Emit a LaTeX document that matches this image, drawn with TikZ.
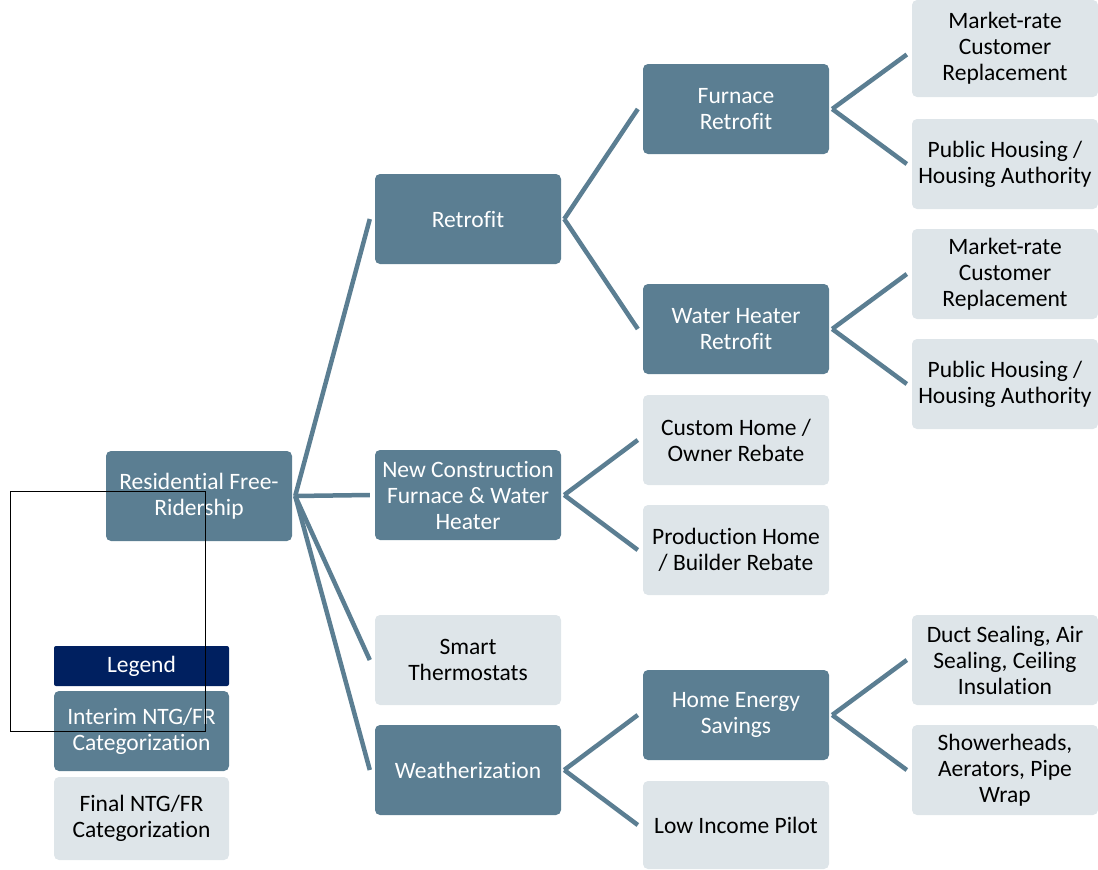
\documentclass[tikz,border=0pt]{standalone}
\usepackage{fontspec}
\setmainfont{Carlito}[Ligatures=CommonOff]
\begin{document}
\begin{tikzpicture}[x=1pt,y=-1pt,
  box/.style={rounded corners=5pt, minimum width=186pt, minimum height=90pt, align=center, inner sep=0pt, font=\fontsize{23.5}{26}\selectfont},
  dark/.style={box, fill=steel, text=white},
  light/.style={box, fill=pale, text=black},
  conn/.style={draw=steel, line width=4.5pt, line cap=butt}]
\definecolor{steel}{HTML}{5B7E92}
\definecolor{pale}{HTML}{DEE5E9}
\definecolor{navy}{HTML}{002060}
\useasboundingbox (0,0) rectangle (1098,870);
% level 0
\node[dark] (res) at (199,496) {Residential Free-\\Ridership};
% level 1
\node[dark] (ret) at (468,219) {Retrofit};
\node[dark] (newc) at (468,495) {New Construction\\Furnace \& Water\\Heater};
\node[light] (smart) at (468,660) {Smart\\Thermostats};
\node[dark] (weath) at (468,770) {Weatherization};
% level 2
\node[dark] (furn) at (736,109) {Furnace\\Retrofit};
\node[dark] (wh) at (736,329) {Water Heater\\Retrofit};
\node[light] (cust) at (736,440) {Custom Home /\\Owner Rebate};
\node[light] (prod) at (736,550) {Production Home\\/ Builder Rebate};
\node[dark] (hes) at (736,715) {Home Energy\\Savings};
\node[light, minimum height=88pt] (lip) at (736,825) {Low Income Pilot};
% level 3
\node[light, minimum height=97pt] (mr1) at (1005,48.5) {Market-rate\\Customer\\Replacement};
\node[light] (ph1) at (1005,164) {Public Housing /\\Housing Authority};
\node[light] (mr2) at (1005,274) {Market-rate\\Customer\\Replacement};
\node[light] (ph2) at (1005,384) {Public Housing /\\Housing Authority};
\node[light] (duct) at (1005,660) {Duct Sealing, Air\\Sealing, Ceiling\\Insulation};
\node[light] (show) at (1005,770) {Showerheads,\\Aerators, Pipe\\Wrap};
% connectors
\foreach \c in {ret,newc,smart,weath}
  \draw[conn] ([xshift=3pt]res.east) -- ([xshift=-5pt]\c.west);
\foreach \c in {furn,wh}
  \draw[conn] ([xshift=3pt]ret.east) -- ([xshift=-5pt]\c.west);
\foreach \c in {cust,prod}
  \draw[conn] ([xshift=3pt]newc.east) -- ([xshift=-5pt]\c.west);
\foreach \c in {hes,lip}
  \draw[conn] ([xshift=3pt]weath.east) -- ([xshift=-5pt]\c.west);
\draw[conn] ([xshift=3pt]furn.east) -- ([xshift=-5pt,yshift=-6pt]mr1.west);
\draw[conn] ([xshift=3pt]furn.east) -- ([xshift=-5pt]ph1.west);
\foreach \c in {mr2,ph2}
  \draw[conn] ([xshift=3pt]wh.east) -- ([xshift=-5pt]\c.west);
\foreach \c in {duct,show}
  \draw[conn] ([xshift=3pt]hes.east) -- ([xshift=-5pt]\c.west);
% legend
\node[box, fill=navy, text=white, minimum width=175pt, minimum height=40pt, rounded corners=2pt] (leg) at (141.5,666) {Legend};
\node[dark, minimum width=175pt, minimum height=80pt] (interim) at (141.5,731) {Interim NTG/FR\\Categorization};
\node[light, minimum width=175pt, minimum height=83pt] (final) at (141.5,818.5) {Final NTG/FR\\Categorization};
% stray frame
\draw[black, line width=1pt] (10,491) rectangle (205,731);
\end{tikzpicture}
\end{document}
